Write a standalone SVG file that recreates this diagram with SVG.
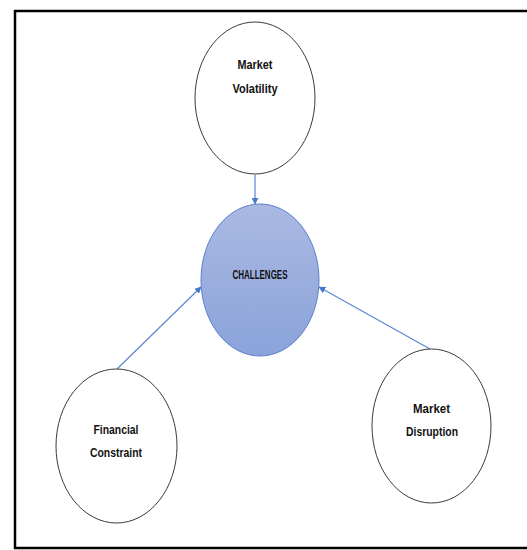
<svg xmlns="http://www.w3.org/2000/svg" width="527" height="550" viewBox="0 0 527 550">
<style>
.node{fill:#ffffff;stroke:#3a3a3a;stroke-width:1}
.lbl{font-family:"Liberation Sans",Arial,sans-serif;font-weight:bold;font-size:13px;fill:#111111;text-anchor:middle}
.conn{stroke:#5b86d2;stroke-width:1.2;fill:none;marker-end:url(#arr)}
</style>
<defs>
<linearGradient id="g" x1="0" y1="0" x2="0" y2="1">
<stop offset="0" stop-color="#aab9e2"/>
<stop offset="1" stop-color="#8aa3da"/>
</linearGradient>
<marker id="arr" viewBox="0 0 10 10" refX="9" refY="5" markerWidth="7" markerHeight="7" markerUnits="userSpaceOnUse" orient="auto">
<path d="M0,0 L10,5 L0,10 z" fill="#4a78c8"/>
</marker>
</defs>
<rect x="0" y="0" width="527" height="550" fill="#ffffff"/>
<rect x="15" y="11" width="525" height="537" fill="none" stroke="#000000" stroke-width="2.5"/>
<g id="connectors">
<line class="conn" x1="255" y1="175" x2="255" y2="204"/>
<line class="conn" x1="117" y1="369" x2="201" y2="287"/>
<line class="conn" x1="430" y1="349" x2="319" y2="287"/>
</g>
<g id="market-volatility">
<ellipse class="node" cx="255" cy="98" rx="60" ry="76"/>
<text class="lbl" x="255" y="69" textLength="35" lengthAdjust="spacingAndGlyphs">Market</text>
<text class="lbl" x="255" y="93" textLength="45" lengthAdjust="spacingAndGlyphs">Volatility</text>
</g>
<g id="challenges">
<ellipse cx="260" cy="280" rx="59" ry="76" fill="url(#g)" stroke="#5a80cc" stroke-width="1"/>
<text class="lbl" x="260" y="279" textLength="55" lengthAdjust="spacingAndGlyphs">CHALLENGES</text>
</g>
<g id="financial-constraint">
<ellipse class="node" cx="116.5" cy="446" rx="60.5" ry="77"/>
<text class="lbl" x="116" y="434" textLength="45" lengthAdjust="spacingAndGlyphs">Financial</text>
<text class="lbl" x="116" y="457" textLength="52" lengthAdjust="spacingAndGlyphs">Constraint</text>
</g>
<g id="market-disruption">
<ellipse class="node" cx="431.5" cy="426" rx="59.5" ry="77"/>
<text class="lbl" x="431.5" y="413" textLength="37" lengthAdjust="spacingAndGlyphs">Market</text>
<text class="lbl" x="432" y="436" textLength="52" lengthAdjust="spacingAndGlyphs">Disruption</text>
</g>
</svg>
